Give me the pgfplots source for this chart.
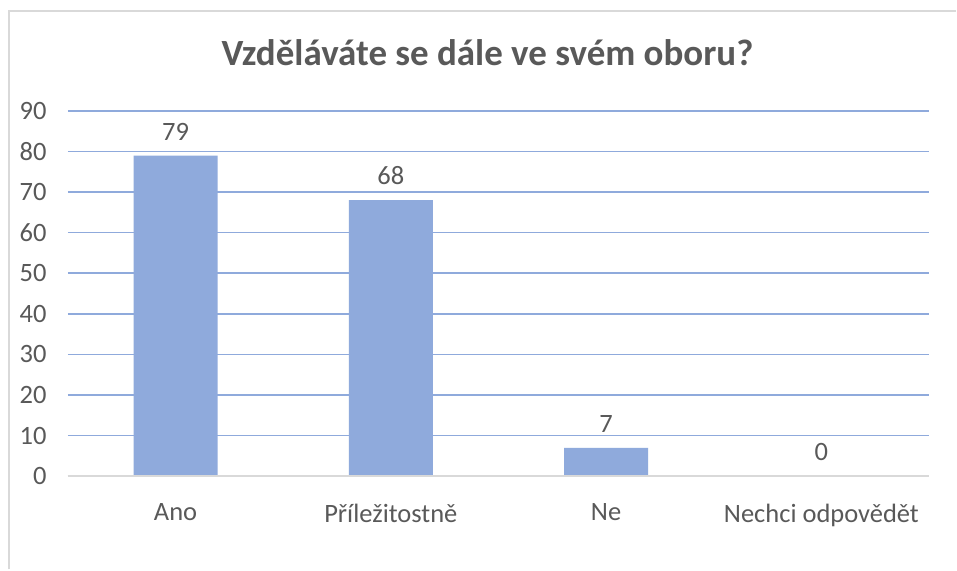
\documentclass[border=0pt]{standalone}
\usepackage{pgfplots}
\pgfplotsset{compat=1.18}
\usepackage{fontspec}
\setmainfont{Carlito}
\definecolor{barc}{HTML}{8FAADC}
\definecolor{gridc}{HTML}{8FAADC}
\definecolor{txtc}{HTML}{595959}
\definecolor{framec}{HTML}{D9D9D9}
\begin{document}
\begin{tikzpicture}[x=1bp,y=1bp]
\fill[white] (0,0) rectangle (957,570);
\draw[framec,line width=2bp] (9.5,0) -- (9.5,559) -- (957,559);
\node[txtc,font=\fontsize{37bp}{42bp}\selectfont\bfseries] at (488,517) {Vzděláváte se dále ve svém oboru?};
\begin{axis}[
  at={(68bp,93.3bp)}, anchor=south west,
  scale only axis, width=862bp, height=365.7bp,
  xmin=-0.5, xmax=3.5, ymin=0, ymax=90,
  ytick={0,10,...,90},
  xtick={0,1,2,3},
  xticklabels={Ano,Příležitostně,Ne,Nechci odpovědět},
  axis line style={draw=none},
  axis x line*=bottom, axis y line*=left,
  tick style={draw=none},
  xmajorgrids=false, ymajorgrids=true,
  major grid style={draw=gridc,line width=1.5bp},
  /pgf/number format/assume math mode=true,
  ticklabel style={txtc,font=\fontsize{26.5bp}{30bp}\selectfont},
  yticklabel style={xshift=-18bp},
  xticklabel style={yshift=-20bp},
  ybar, bar width=84bp,
  nodes near coords,
  every node near coord/.append style={txtc,font=\fontsize{26.5bp}{30bp}\selectfont,yshift=12bp},
  clip=false,
]
\addplot[fill=barc,draw=none] coordinates {(0,79) (1,68) (2,7) (3,0)};
\draw[framec,line width=2bp] (axis cs:-0.5,0) -- (axis cs:3.5,0);
\end{axis}
\end{tikzpicture}
\end{document}
